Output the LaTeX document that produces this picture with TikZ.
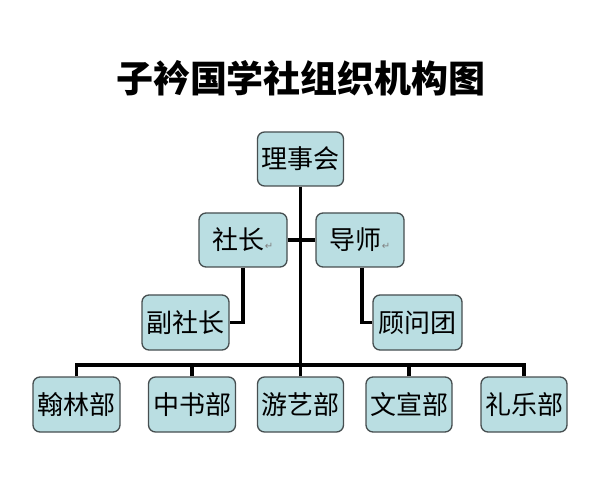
\documentclass[tikz,border=0pt]{standalone}
\usepackage{fontspec}
\newfontfamily\cjk{Noto Sans CJK SC}
\newfontfamily\symf{DejaVu Sans}
\definecolor{boxfill}{RGB}{186,222,226}
\definecolor{boxline}{RGB}{70,78,80}
\begin{document}
\begin{tikzpicture}[x=1pt,y=-1pt,
  orgbox/.style={draw=boxline,line width=1.3pt,fill=boxfill,rounded corners=7pt,
    minimum width=86pt,minimum height=54pt,inner sep=0pt,font=\cjk\fontsize{26}{28}\selectfont},
  conn/.style={line width=3.2pt,black,line join=miter}]
\useasboundingbox (0,0) rectangle (606,500);
\node[font=\cjk\bfseries\fontsize{37}{40}\selectfont] (title) at (301,78) {子衿国学社组织机构图};
\node[orgbox] (lsh) at (300.5,159) {理事会};
\node[orgbox,minimum width=88pt] (she) at (243,240) {社长{\symf\fontsize{10}{10}\selectfont\color{gray}↵}};
\node[orgbox,minimum width=88pt] (dsh) at (360,240) {导师{\symf\fontsize{10}{10}\selectfont\color{gray}↵}};
\node[orgbox,minimum width=87pt,minimum height=55pt] (fu) at (185.5,322.5) {副社长};
\node[orgbox,minimum width=89pt,minimum height=55pt] (gw) at (417.5,322.5) {顾问团};
\node[orgbox,minimum width=87pt,minimum height=55pt] (b1) at (76.5,404.5) {翰林部};
\node[orgbox,minimum width=87pt,minimum height=55pt] (b2) at (192,404.5) {中书部};
\node[orgbox,minimum width=86pt,minimum height=55pt] (b3) at (300.5,404.5) {游艺部};
\node[orgbox,minimum width=86pt,minimum height=55pt] (b4) at (409,404.5) {文宣部};
\node[orgbox,minimum width=86pt,minimum height=55pt] (b5) at (524,404.5) {礼乐部};
\coordinate (bus) at (300.5,365);
\draw[conn,line width=3.8pt] (lsh.south) -- (bus);
\draw[conn] (she.east) -- (dsh.west);
\draw[conn] (she.south) |- (fu.east);
\draw[conn] ([xshift=2pt]dsh.south) |- (gw.west);
\draw[conn] (b1.north) -- (b1.north |- bus) -- (b5.north |- bus) -- (b5.north);
\draw[conn] (b2.north) -- (b2.north |- bus);
\draw[conn] (b3.north) -- (bus);
\draw[conn] (b4.north) -- (b4.north |- bus);
\end{tikzpicture}
\end{document}
